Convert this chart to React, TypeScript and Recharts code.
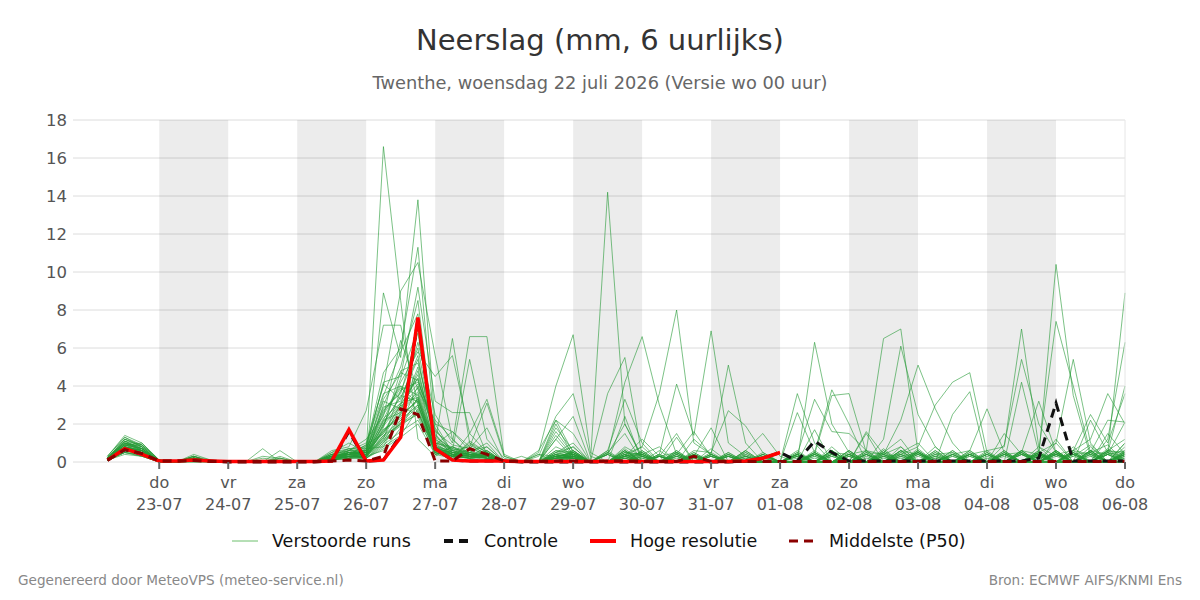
import React from "react";
import {
  LineChart,
  Line,
  XAxis,
  YAxis,
  CartesianGrid,
  ReferenceArea,
} from "recharts";

// 6-hourly steps, index 0 = wo 22-07 06 uur, index 59 = do 06-08 00 uur
const steps = Array.from({ length: 60 }, (_, i) => i);

// day boundaries (index of 00 uur) with labels
const dayTicks = [3, 7, 11, 15, 19, 23, 27, 31, 35, 39, 43, 47, 51, 55, 59];
const dayNames = ["do", "vr", "za", "zo", "ma", "di", "wo", "do", "vr", "za", "zo", "ma", "di", "wo", "do"];
const dayDates = ["23-07", "24-07", "25-07", "26-07", "27-07", "28-07", "29-07", "30-07", "31-07", "01-08", "02-08", "03-08", "04-08", "05-08", "06-08"];

const yTicks = [0, 2, 4, 6, 8, 10, 12, 14, 16, 18];

// perturbed ensemble runs (mm per 6 uur)
const run01 = [0.2,1.0,0.6, 0,0,0.2,0, 0,0,0.7,0, 0,0,0.2,0.5, 0.5,16.6,8.5,1.2, 0.3,0.8,0.4,0.2, 0,0,0,0.3, 0.5,0,0,0.3, 0,0,0.2,0, 0,0,0,0, 0,0,0.5,0, 0,0,0.4,0.8, 0,0,0,0, 0,0,0.6,0, 0.4,0,0,0, 0.5];
const run02 = [0.3,1.3,0.9, 0.1,0,0.3,0, 0,0,0,0.6, 0,0,0.1,0.3, 0.2,8.9,5.5,13.8, 2.0,0.5,0.3,0.1, 0,0,0,0, 0.2,0,0.4,0, 0,0,0,0.3, 0,0,0,0, 0,0,0,0, 0,0,0,0.5, 1.0,0,0,0, 0,0,0,0.4, 0,0.6,0,0, 1.0];
const run03 = [0.1,0.8,0.5, 0,0,0.1,0, 0,0,0.2,0.1, 0,0,0.6,0.8, 2.7,7.2,7.2,3.0, 0.8,0.3,1.0,0.5, 0,0,0,0.8, 0.4,0,0,0.6, 0,0,0,0, 0,0.4,0,0, 0,0.5,0,0, 0,0,0,0, 0.5,0,0,0, 0,0,0,0.3, 0,0,0.8,0, 0];
const run04 = [0.2,1.2,0.8, 0,0,0.2,0, 0,0,0,0, 0,0,0.3,0.4, 0.8,4.7,6.0,11.3, 1.5,0.3,0.2,0.6, 0,0,0,0.5, 1.0,0,0,0.3, 0.5,0,0,0.2, 0,0,0,0, 0,0,0,0.6, 0,0,0.5,1.2, 0,0,0,0.5, 0,0,0,0, 0.5,0,0,0.6, 1.2];
const run05 = [0.2,0.9,1.0, 0.1,0,0.1,0, 0,0,0.3,0.2, 0,0,0.2,0.6, 1.0,4.0,9.0,10.5, 5.6,1.2,0.4,0.3, 0,0,0,0.2, 0.6,0,0,0.8, 0.3,0,0.3,0, 0,0,0,0, 0,0,0.4,0, 0.6,0,0,0, 0,0.8,0,0, 0,0,0.5,0, 0,0.3,0.9,0, 0];
const run06 = [0.2,1.1,0.7, 0,0,0.3,0.1, 0,0,0,0.2, 0,0,0.4,0.3, 0.6,4.2,4.5,9.2, 3.2,2.6,2.6,0.4, 0,0,0,0.4, 0.8,0,0.5,0, 0,0.3,0,0, 0,0.5,0,0, 0,0,0,0.8, 0,0,0,0.6, 0,0,0,0, 0.5,0,0,0, 1.2,0,0,0, 0.8];
const run07 = [0.1,0.6,0.4, 0,0,0,0, 0,0,0,0, 0,0,0.5,0.7, 0.3,3.0,5.0,8.5, 1.0,6.5,1.0,0.3, 0,0,0,0, 0.3,0,0,0.5, 0.4,0,0,0.3, 0,0,0,0, 0,0,0.6,0, 0,0.4,0,0, 0,0,0.6,0, 0,0,0,0.8, 0,0,0.5,0.9, 0];
const run08 = [0.2,0.7,0.5, 0.1,0,0.1,0, 0,0,0,0, 0,0,0.2,0.4, 0.9,1.5,3.0,6.3, 2.5,1.0,6.6,6.6, 0.3,0,0,0.6, 0.5,0,0,0, 0,0,0.4,0, 0,0,0,0.3, 0,0,0,0, 0.3,0,0.7,0, 0.5,0,0,0, 0,0.6,0,0, 0,0.5,0,1.5, 0.4];
const run09 = [0.1,0.5,0.3, 0,0,0.1,0, 0,0,0,0, 0,0,0.1,0.5, 0.4,2.2,4.2,5.8, 4.5,5.6,1.5,0.5, 0,0,0,1.2, 2.4,0,0,0.4, 0.8,0,0,0, 0,0,0.6,0, 0,0.4,0,0, 0,0.5,0,0, 0.7,0,0,0.6, 0,0,0,0.5, 0,0.8,0,0, 0.6];
const run10 = [0.2,0.8,0.6, 0,0,0.2,0, 0,0,0,0.3, 0,0,0.3,0.2, 0.7,0.8,2.5,4.8, 1.2,0.6,5.4,1.2, 0.2,0,0,0, 0.6,0,0,0.7, 0,0,0,0, 0.5,0,0,0, 0,0,0,0.6, 0,0,0,0.4, 0,0,0,0, 0.4,0,0,0, 0.6,0,0,0.4, 2.1];
const run11 = [0.3,1.4,1.0, 0.1,0,0.4,0.1, 0,0,0.1,0, 0,0,0.5,1.0, 0.5,3.5,5.8,7.8, 0.5,0.3,1.5,3.3, 0.4,0,0,0, 0.2,0,0,0, 0.3,0,0.5,0, 0,0,0,0.4, 0,0,0,0, 0.6,0,0,0, 0,0.6,0,0, 0,0,0,0.4, 0,0,0.6,0, 0];
const run12 = [0.2,1.0,0.8, 0,0,0.2,0, 0,0,0,0, 0,0,0.1,0.3, 0.4,1.2,3.8,4.2, 2.0,1.6,0.8,3.1, 0.3,0,0,0, 0.4,0,0.6,0, 0,0.3,0,0.5, 0,0,0,0, 0,0,0.4,0, 0,0,0,0.6, 0,0,0.5,0, 0,0.5,0,0, 0,0.4,0,0, 0];
const run13 = [0.1,0.7,0.6, 0,0,0.1,0, 0,0,0,0, 0,0,0.2,0.6, 0.3,2.0,3.5,3.2, 1.0,0.8,0.5,0.3, 0,0,0.5,4.0, 6.7,0.5,0,0, 0.6,0,0,0.3, 0,0.4,0,0, 0,0,0,0.5, 0,0,0.6,0, 0,0.4,0,0.6, 0,0,0,0.5, 0,0,0.6,0, 1.0];
const run14 = [0.2,0.9,0.5, 0,0,0.2,0, 0,0,0,0.1, 0,0,0.3,0.5, 0.6,3.2,2.8,4.6, 1.4,0.6,0.3,0.2, 0,0,0.3,2.4, 3.6,0.3,0,0, 0.4,0,0,0, 0.3,0,0,0, 0,0.4,0,0, 0.5,0,0,0.8, 0,0,0,0.4, 0,0,0.6,0, 0,0,0,0.7, 0];
const run15 = [0.2,1.1,0.9, 0.1,0,0.3,0, 0,0,0,0, 0,0,0.4,0.2, 0.5,2.6,4.0,3.5, 0.6,0.4,0.2,0.1, 0,0,0,0.3, 0.5,0,14.2,2.0, 0.2,0,0.3,0, 0,0.3,0,0, 0,0,0,0.6, 0,0,0.4,0, 0.6,0,0,0, 0,0,0.4,0, 0.5,0,0,0, 0.4];
const run16 = [0.1,0.6,0.7, 0,0,0.1,0, 0,0,0,0, 0,0,0.1,0.4, 0.2,1.8,4.8,5.2, 1.8,0.4,0.2,0.3, 0,0.3,0,0.5, 0.3,0,3.6,5.5, 0.3,0,0,0.4, 0,0,0.3,0, 0,0.4,0,0, 0,0.6,0,0, 0,0,0,0.5, 0,0,0.5,0, 0.6,0,0,0, 0];
const run17 = [0.2,1.2,0.8, 0,0,0.2,0, 0,0,0,0, 0,0,0.3,0.7, 0.8,4.1,3.3,5.6, 0.9,1.6,0.6,0.2, 0,0,0,0.4, 0.6,0,0.4,4.2, 6.6,3.0,0.4,0, 0,0,0,0.3, 0,0,0.5,0, 0.4,0,0,0, 0.5,0,0,0, 0,0.6,0,0, 0,0.5,0,0, 0.4];
const run18 = [0.1,0.4,0.3, 0,0,0,0, 0,0,0,0, 0,0,0.1,0.3, 0.2,1.0,2.2,3.0, 0.6,0.3,0.9,0.4, 0,0,0.4,0.3, 0.2,0,0,0.3, 0.8,3.6,8.0,1.0, 0.4,0,0,0, 0,0,0,0.4, 0,0,0.5,0, 0,0,0.6,0, 0,0,0,0.5, 0,0,0,0.6, 0.5];
const run19 = [0.2,0.8,0.6, 0.1,0,0.1,0, 0,0,0,0, 0,0,0.2,0.5, 0.4,2.8,3.6,6.8, 1.1,0.5,0.4,0.6, 0,0,0,0.6, 0.4,0,0,0.6, 0,0.4,4.1,1.4, 6.9,1.0,0.3,0, 0,0,0,0.3, 0,0.4,0,0, 0,0,0,0.4, 0.6,0,0,0, 0,0,0.4,0, 0];
const run20 = [0.2,1.0,0.7, 0,0,0.3,0, 0,0,0,0, 0,0,0.3,0.4, 0.9,3.6,4.0,2.6, 0.7,0.3,0.5,1.0, 0,0,0,0.2, 0.3,0,0,0.4, 0,0,0.6,0, 0.4,5.1,1.0,0, 0,0.3,0,0, 0.4,0,0,0.6, 0,0,0.4,0, 0,0.4,0,0, 0.5,0,0,0.4, 0.6];
const run21 = [0.1,0.5,0.4, 0,0,0.1,0, 0,0,0,0, 0,0,0.2,0.3, 0.3,1.4,2.0,4.0, 1.6,0.9,0.7,1.8, 0,0,0,0.5, 0.8,0,0,0.3, 0.5,0,0,0.6, 0.5,2.7,1.9,0.5, 0,0,0.4,0, 0,0,0.6,0, 0,0.5,0,0, 0.4,0,0,0, 0,0.4,0,0.5, 0];
const run22 = [0.3,1.3,0.8, 0.1,0,0.2,0, 0,0,0,0.2, 0,0,0.4,0.6, 1.2,2.4,6.4,3.8, 2.2,1.2,0.3,0.8, 0,0,0,0.4, 0.2,0,0,0.5, 0,0.6,0,0, 0.7,0,0.6,1.5, 0.3,0,0,0.6, 0,0.4,0,0, 0.6,0,0,0.4, 0,0.5,0,0.6, 0,0,0.5,0, 0.4];
const run23 = [0.2,0.7,0.5, 0,0,0.1,0, 0,0,0,0, 0,0,0.1,0.2, 0.3,0.6,1.8,3.4, 0.5,0.2,1.1,0.5, 0,0,0.4,0, 0.5,0,0.6,3.3, 1.0,0,0.4,1.6, 0.3,0,0,0, 0,0.6,0,0, 0.4,0,0,0, 0,0.6,0,0.4, 0,0,0.5,0, 0.4,0,0,0.6, 0];
const run24 = [0.2,0.9,0.9, 0,0,0.2,0, 0,0,0,0, 0,0,0.3,0.2, 0.4,1.1,2.6,5.0, 0.8,0.6,0.4,0.2, 0,0,0.6,2.2, 1.5,0,0,0.2, 0.4,0.8,0,1.2, 0.4,0,0,0, 0,0,0.5,0, 0,0.6,0.4,0, 0.5,0,0,0, 0,0.4,0,0, 0,0.6,0.4,0, 0.5];
const run25 = [0.2,0.8,0.4, 0,0,0.1,0, 0,0,0,0, 0,0,0.2,0.4, 0.5,1.6,3.0,2.4, 0.4,0.8,0.3,0.5, 0,0,0,1.4, 0.3,0,0,0.6, 0,0.3,0,0.4, 0,0.5,0,0.4, 0,3.6,1.0,0, 0,0.4,0,0, 0.5,0,0.4,0, 0,0,0.6,0, 0.4,0,0,0.5, 0];
const run26 = [0.1,0.6,0.5, 0,0,0.2,0, 0,0,0,0, 0,0,0.3,0.3, 0.4,2.2,2.6,3.6, 0.7,0.5,0.6,0.8, 0,0,0,1.8, 0.6,0,0,0.5, 0.4,0,0.5,0, 0,0.4,0,0, 0,2.6,0.5,3.8, 2.0,0,0.4,0, 0,0.5,0,0.4, 0,0,0,0.5, 0,0.4,0,0, 0.6];
const run27 = [0.2,1.1,0.6, 0.1,0,0.2,0, 0,0,0,0, 0,0,0.2,0.5, 0.3,1.9,4.4,7.0, 0.9,0.4,0.2,0.6, 0,0,0,1.6, 0.4,0,0,0.4, 0,0,0.6,0, 0.4,0,0.5,0, 0,0,6.3,2.0, 0.5,0,0,0.6, 0.4,0,0,0, 0.5,0,0.4,0, 0.6,0,0,0.4, 0];
const run28 = [0.2,0.9,0.7, 0,0,0.1,0, 0,0,0,0, 0,0,0.4,0.6, 0.6,2.9,3.2,4.4, 1.3,0.7,0.4,0.3, 0,0,0,2.0, 0.3,0,0.5,0, 0.6,0,0,0.4, 0,0,0.6,0, 0,0.4,3.3,1.6, 1.5,0.6,0,0.4, 0,0.4,0.5,0, 0,0,0.6,0.4, 0,0.5,0,0, 0.4];
const run29 = [0.1,0.6,0.4, 0,0,0.2,0, 0,0,0,0, 0,0,0.1,0.3, 0.2,0.9,1.6,2.2, 0.6,0.3,0.5,0.4, 0,0,0,1.2, 0.2,0,0,0, 0.5,0,0.4,0, 0,0,0.5,0, 0,0,0.4,3.5, 3.6,0.5,0,0, 0.6,0,0,0, 0,0.4,0,0, 0.5,0,0.6,0, 0.3];
const run30 = [0.2,1.0,0.6, 0,0,0.2,0, 0,0,0,0, 0,0,0.3,0.4, 0.5,2.5,3.9,3.1, 0.4,0.6,0.8,0.3, 0,0,0,2.2, 0.5,0,0,0.6, 0,0.4,0,0, 0.4,0,0,0.5, 0,0,0,0.5, 0.4,0.6,6.5,7.0, 0.5,0,0.4,0, 0,0.5,0,0.4, 0,0,0.6,0.4, 0];
const run31 = [0.1,0.7,0.5, 0,0,0.1,0, 0,0,0,0, 0,0,0.2,0.5, 0.4,1.3,2.9,3.9, 0.8,0.4,0.3,0.5, 0,0,0,0.3, 0.4,0,0,2.4, 0,0,0.5,0, 0,0.4,0,0, 0,0,0.5,0, 0.6,0,1.2,6.1, 2.5,0.8,0,0.4, 0,0,0.5,0, 0.4,0,0,0.5, 0.3];
const run32 = [0.2,1.2,0.9, 0.1,0,0.3,0, 0,0,0,0, 0,0,0.4,0.7, 0.7,3.3,4.7,4.3, 1.7,0.6,0.4,0.3, 0,0,0,0.3, 0.4,0,0.5,1.5, 0,0.3,0,0.4, 0,0,0.4,0, 0,0.4,0,0.6, 0,0.5,0.4,2.2, 5.1,2.8,1.0,0, 0.4,0,0,0.5, 0,0.4,0,0.6, 0.4];
const run33 = [0.2,0.8,0.6, 0,0,0.2,0, 0,0,0,0, 0,0,0.2,0.3, 0.3,1.7,2.3,3.3, 0.5,0.3,0.7,0.4, 0,0,0,0.4, 0.3,0,0.4,2.0, 0.3,0,0,0.5, 0,0.3,0,0.4, 0,0.5,0,0.4, 0,0,0.3,0.4, 0.8,3.0,4.2,4.7, 0.5,0,0,0.4, 0,0.5,0,0, 0.2];
const run34 = [0.1,0.5,0.3, 0,0,0.1,0, 0,0,0,0, 0,0,0.1,0.2, 0.2,0.8,1.4,2.8, 0.6,0.2,0.4,0.3, 0,0,0,0.2, 0.3,0,0,0.3, 1.2,0.3,0.5,0, 0.3,0,0,0, 0,0.3,0,0, 0.3,0,0,0.3, 0.5,0,2.5,3.7, 0,1.5,0.4,0, 0.4,0,0,0.4, 0];
const run35 = [0.2,1.0,0.8, 0,0,0.2,0, 0,0,0,0, 0,0,0.3,0.5, 0.6,2.1,3.4,5.4, 1.0,0.7,0.5,0.2, 0,0,0,0.3, 0.5,0,0.4,0, 0.4,0,1.3,0, 0.3,0,0,0.3, 0,0.4,0,0, 0.4,0,0.5,0, 0,0,0.4,0.6, 2.8,0.5,0,0.4, 0,0,0.5,0, 0.4];
const run36 = [0.2,0.9,0.7, 0,0,0.2,0, 0,0,0,0, 0,0,0.2,0.4, 0.5,1.5,2.7,3.7, 0.8,0.4,0.3,0.4, 0,0,0,0.3, 0.4,0,0,0.4, 0,0.3,1.5,0, 0.4,0,0.3,0, 0,0,0.4,0, 0,0.4,0,0.5, 0,0,0.3,0, 0.6,0.8,7.0,0.8, 0.3,0,0.4,0, 0.5];
const run37 = [0.1,0.6,0.5, 0,0,0.1,0, 0,0,0,0, 0,0,0.2,0.3, 0.3,1.0,2.1,2.9, 0.7,0.3,0.2,0.5, 0,0,0,0.2, 0.3,0,0,0.3, 0,0.4,0,0.3, 1.8,0,0.4,0, 0,0,0,0.4, 0,0.3,0,0, 0.4,0,0,0.3, 0,0.9,5.4,2.0, 0.5,0,0,0.4, 0];
const run38 = [0.2,0.8,0.6, 0,0,0.2,0, 0,0,0,0, 0,0,0.3,0.4, 0.4,2.0,3.1,4.1, 0.9,0.5,0.4,0.3, 0,0,0,0.4, 0.2,0,0,0.3, 0.4,0,0,0, 0,0,0.2,0, 0,0.4,0,0, 0,1.6,0.4,0, 0,0.4,0,0, 0.4,0,4.2,0.5, 1.0,0,0.3,0, 0.3];
const run39 = [0.2,1.1,0.7, 0.1,0,0.2,0, 0,0,0,0, 0,0,0.3,0.6, 0.7,2.7,3.7,6.0, 1.2,0.5,0.3,0.2, 0,0,0,0.2, 0.3,0,0,0.4, 0,0,0.4,0, 0,0.3,0,0.4, 0,0,1.7,0, 0.4,0,0,0.4, 0,0,0.4,0, 0,0,0.4,0.3, 10.4,3.5,0.3,0, 0.2];
const run40 = [0.1,0.7,0.4, 0,0,0.1,0, 0,0,0,0, 0,0,0.2,0.5, 0.5,1.7,2.4,3.3, 0.6,0.4,0.5,0.3, 0,0,0,0.3, 0.4,0,0,0, 0,0.3,0,0.4, 0,0,0.3,0, 0,0,0,0.4, 0,1.5,0,0, 0.4,0,0,0, 0,0.4,0,0.6, 7.4,4.0,0.5,0, 0.4];
const run41 = [0.2,0.9,0.6, 0,0,0.2,0, 0,0,0,0, 0,0,0.2,0.4, 0.6,2.3,3.1,3.4, 1.0,0.4,0.3,0.4, 0,0,0,0.3, 0.2,0,0.4,0, 0,0,0.3,0, 0.3,0,0,0, 0,0,0.4,0, 0,0,0.3,0, 0.4,0,0,0.4, 0,0,0.4,0, 1.0,5.4,1.0,0, 0.5];
const run42 = [0.2,1.0,0.7, 0,0,0.2,0, 0,0,0,0, 0,0,0.3,0.5, 0.5,1.9,3.0,4.4, 0.7,0.5,0.4,0.3, 0,0,0,0.3, 0.3,0,0,0.3, 0,0.3,0,0, 0,0.3,0,0, 0,0.3,0,0, 0,0,0.3,0, 0,0.3,0,0, 0,0.4,0.5,3.2, 0.5,0,0.6,0, 0.3];
const run43 = [0.1,0.6,0.5, 0,0,0.1,0, 0,0,0,0, 0,0,0.2,0.3, 0.3,1.2,1.9,2.6, 0.6,0.3,0.4,0.2, 0,0,0,0.2, 0.3,0,0,0, 0.3,0,0,0.3, 0,0,0.2,0, 0,0,0.3,0, 0,0,0,0.3, 0,0.3,0,0, 0,0,0,0.3, 0.4,0.6,1.2,3.6, 2.0];
const run44 = [0.2,0.8,0.5, 0,0,0.2,0, 0,0,0,0, 0,0,0.2,0.4, 0.4,1.4,2.2,3.0, 0.8,0.4,0.3,0.3, 0,0,0,0.2, 0.3,0,0,0.2, 0,0.3,0,0, 0,0,0,0.2, 0,0,0,0.3, 0,0,0.3,0, 0.3,0,0,0.3, 0,0,0,0.2, 0,0,0.4,0.5, 8.9];
const run45 = [0.1,0.7,0.6, 0,0,0.1,0, 0,0,0,0, 0,0,0.1,0.3, 0.3,1.1,2.0,2.7, 0.5,0.3,0.2,0.3, 0,0,0,0.2, 0.2,0,0,0, 0.3,0,0,0.3, 0,0,0.3,0, 0,0,0.3,0, 0,0.2,0,0, 0,0.3,0,0, 0.3,0,0,0.3, 0,0.3,0,1.2, 6.3];
const run46 = [0.2,0.9,0.7, 0,0,0.2,0, 0,0,0,0, 0,0,0.2,0.4, 0.4,1.6,2.5,3.2, 0.7,0.4,0.3,0.2, 0,0,0,0.2, 0.2,0,0,0.2, 0,0,0.3,0, 0,0.3,0,0, 0,0.3,0,0, 0.3,0,0,0.3, 0,0,0.3,0, 0,0.3,0,0, 0.6,0,2.2,0.5, 4.0];
const run47 = [0.1,0.5,0.4, 0,0,0.1,0, 0,0,0,0, 0,0,0.1,0.2, 0.2,0.7,1.3,2.0, 0.4,0.2,0.3,0.2, 0,0,0,0.1, 0.2,0,0,0.2, 0,0,0,0.2, 0,0,0,0, 0,0,0.2,0, 0,0,0,0.2, 0,0.2,0,0, 0,0,0,0.3, 0,0.6,2.5,1.0, 3.6];
const run48 = [0.2,0.8,0.6, 0,0,0.2,0, 0,0,0,0, 0,0,0.2,0.3, 0.3,1.3,2.0,2.5, 0.6,0.3,0.2,0.3, 0,0,0,0.2, 0.2,0,0,0, 0.2,0,0,0, 0,0,0,0.2, 0,0.2,0,0, 0,0,0.2,0, 0,0.2,0,0, 0.2,0,0,0, 0.3,0.4,0.5,2.2, 2.1];

const runs = [
  run01, run02, run03, run04, run05, run06, run07, run08, run09, run10, run11, run12,
  run13, run14, run15, run16, run17, run18, run19, run20, run21, run22, run23, run24,
  run25, run26, run27, run28, run29, run30, run31, run32, run33, run34, run35, run36,
  run37, run38, run39, run40, run41, run42, run43, run44, run45, run46, run47, run48,
];

const controle = [0.1,0.65,0.4, 0.05,0.05,0.1,0.05, 0,0,0,0, 0,0,0.05,1.6, 0.05,0.1,1.4,7.5, 0.7,0.1,0.05,0.05, 0.05,0,0,0, 0,0,0,0, 0,0,0,0, 0,0,0.05,0.2, 0.5,0.05,1.1,0.5, 0.05,0.05,0.05,0.05, 0.05,0.05,0.05,0.05, 0.05,0.05,0.05,0.2, 3.1,0.05,0.05,0.05, 0.05];
// high resolution run only goes to za 01-08 00 uur
const hogeResolutie = [0.1,0.7,0.4, 0.05,0.05,0.1,0.05, 0.02,0.02,0.02,0.02, 0.02,0.02,0.05,1.7, 0.05,0.1,1.3,7.6, 0.7,0.1,0.05,0.05, 0.05,0.02,0.02,0.02, 0.02,0.02,0.02,0.02, 0.02,0.02,0.02,0.02, 0.02,0.02,0.05,0.2, 0.5];
const middelste = [0.1,0.65,0.45, 0.05,0.05,0.08,0.03, 0.02,0.02,0.03,0.03, 0.02,0.02,0.05,0.1, 0.05,0.3,2.8,2.5, 0.05,0.05,0.7,0.4, 0.05,0.03,0.03,0.05, 0.05,0.03,0.05,0.05, 0.03,0.03,0.03,0.3, 0.03,0.03,0.03,0.03, 0.03,0.03,0.03,0.03, 0.03,0.03,0.03,0.03, 0.03,0.03,0.03,0.03, 0.03,0.03,0.03,0.03, 0.03,0.03,0.03,0.03, 0.03];

const data = steps.map((t, i) => {
  const row: Record<string, number | null> = { t };
  runs.forEach((r, k) => {
    row[`r${k}`] = r[i];
  });
  row.ctrl = controle[i];
  row.hres = i < hogeResolutie.length ? hogeResolutie[i] : null;
  row.p50 = middelste[i];
  return row;
});

// every other day gets a grey band, starting with do 23-07
const bands = dayTicks
  .slice(0, -1)
  .map((d, k) => [d, dayTicks[k + 1]])
  .filter((_, k) => k % 2 === 0);

const FONT = "'DejaVu Sans', sans-serif";

const DayTick = (props: any) => {
  const { x, y, payload } = props;
  const k = dayTicks.indexOf(payload.value);
  return (
    <g transform={`translate(${x},${y})`}>
      <text textAnchor="middle" fill="#555" fontSize={16} fontFamily={FONT}>
        <tspan x={0} dy={17}>{dayNames[k]}</tspan>
        <tspan x={0} dy={22}>{dayDates[k]}</tspan>
      </text>
    </g>
  );
};

const legendItems = [
  { label: "Verstoorde runs", color: "#6cbf6c", width: 1, dash: undefined, left: 232 },
  { label: "Controle", color: "#111", width: 4, dash: "9 6", left: 444 },
  { label: "Hoge resolutie", color: "#ff0000", width: 4, dash: undefined, left: 590 },
  { label: "Middelste (P50)", color: "#8b0000", width: 3, dash: "9 6", left: 789 },
];

export default function App() {
  return (
    <div
      style={{
        position: "absolute",
        left: 0,
        top: 0,
        width: 1200,
        height: 600,
        background: "#fff",
        fontFamily: FONT,
      }}
    >
      <div style={{ position: "absolute", top: 23, width: 1200, textAlign: "center", fontSize: 29, color: "#333" }}>
        Neerslag (mm, 6 uurlijks)
      </div>
      <div style={{ position: "absolute", top: 72, width: 1200, textAlign: "center", fontSize: 17.8, color: "#666" }}>
        Twenthe, woensdag 22 juli 2026 (Versie wo 00 uur)
      </div>

      <LineChart
        width={1200}
        height={600}
        data={data}
        margin={{ top: 120, right: 15, bottom: 78, left: 14 }}
        style={{ position: "absolute", left: 0, top: 0 }}
      >
        <CartesianGrid horizontal vertical={false} stroke="#dcdcdc" yAxisId="left" />
        {bands.map(([a, b]) => (
          <ReferenceArea key={a} x1={a} x2={b} y1={0} y2={18} yAxisId="left" fill="#000" fillOpacity={0.075} stroke="none" />
        ))}
        <XAxis
          dataKey="t"
          type="number"
          domain={[-2, 59]}
          ticks={dayTicks}
          interval={0}
          height={60}
          axisLine={false}
          tickSize={7}
          tickLine={{ stroke: "#666", strokeWidth: 2 }}
          tick={<DayTick />}
        />
        <YAxis
          yAxisId="left"
          domain={[0, 18]}
          ticks={yTicks}
          width={59}
          axisLine={false}
          tickLine={false}
          tickSize={4}
          tickMargin={2}
          tick={{ fill: "#555", fontSize: 16.5, fontFamily: FONT }}
        />
        <YAxis
          yAxisId="right"
          orientation="right"
          domain={[0, 18]}
          ticks={yTicks}
          width={60}
          axisLine={{ stroke: "#e6e6e6" }}
          tickLine={false}
          tickSize={6}
          tickMargin={3}
          tick={{ fill: "#555", fontSize: 16.5, fontFamily: FONT, textAnchor: "start" }}
        />
        {runs.map((_, k) => (
          <Line
            key={k}
            yAxisId="left"
            dataKey={`r${k}`}
            type="linear"
            stroke="#259a35"
            strokeOpacity={0.6}
            strokeWidth={1}
            dot={false}
            isAnimationActive={false}
          />
        ))}
        <Line yAxisId="left" dataKey="ctrl" type="linear" stroke="#111" strokeWidth={3} strokeDasharray="9 6" dot={false} isAnimationActive={false} />
        <Line yAxisId="left" dataKey="hres" type="linear" stroke="#ff0000" strokeWidth={3.5} dot={false} connectNulls={false} isAnimationActive={false} />
        <Line yAxisId="left" dataKey="p50" type="linear" stroke="#8b0000" strokeWidth={3} strokeDasharray="9 6" dot={false} isAnimationActive={false} />
      </LineChart>

      {legendItems.map((it) => (
        <div key={it.label} style={{ position: "absolute", left: it.left, top: 530, height: 22, display: "flex", alignItems: "center" }}>
          <svg width={28} height={10} style={{ marginRight: 12 }}>
            <line x1={0} y1={5} x2={26} y2={5} stroke={it.color} strokeWidth={it.width} strokeDasharray={it.dash} />
          </svg>
          <span style={{ fontSize: 17.5, color: "#111" }}>{it.label}</span>
        </div>
      ))}

      <div style={{ position: "absolute", left: 18, top: 572, fontSize: 13.6, color: "#888" }}>
        Gegenereerd door MeteoVPS (meteo-service.nl)
      </div>
      <div style={{ position: "absolute", right: 18, top: 572, fontSize: 13.6, color: "#888" }}>
        Bron: ECMWF AIFS/KNMI Ens
      </div>
    </div>
  );
}
